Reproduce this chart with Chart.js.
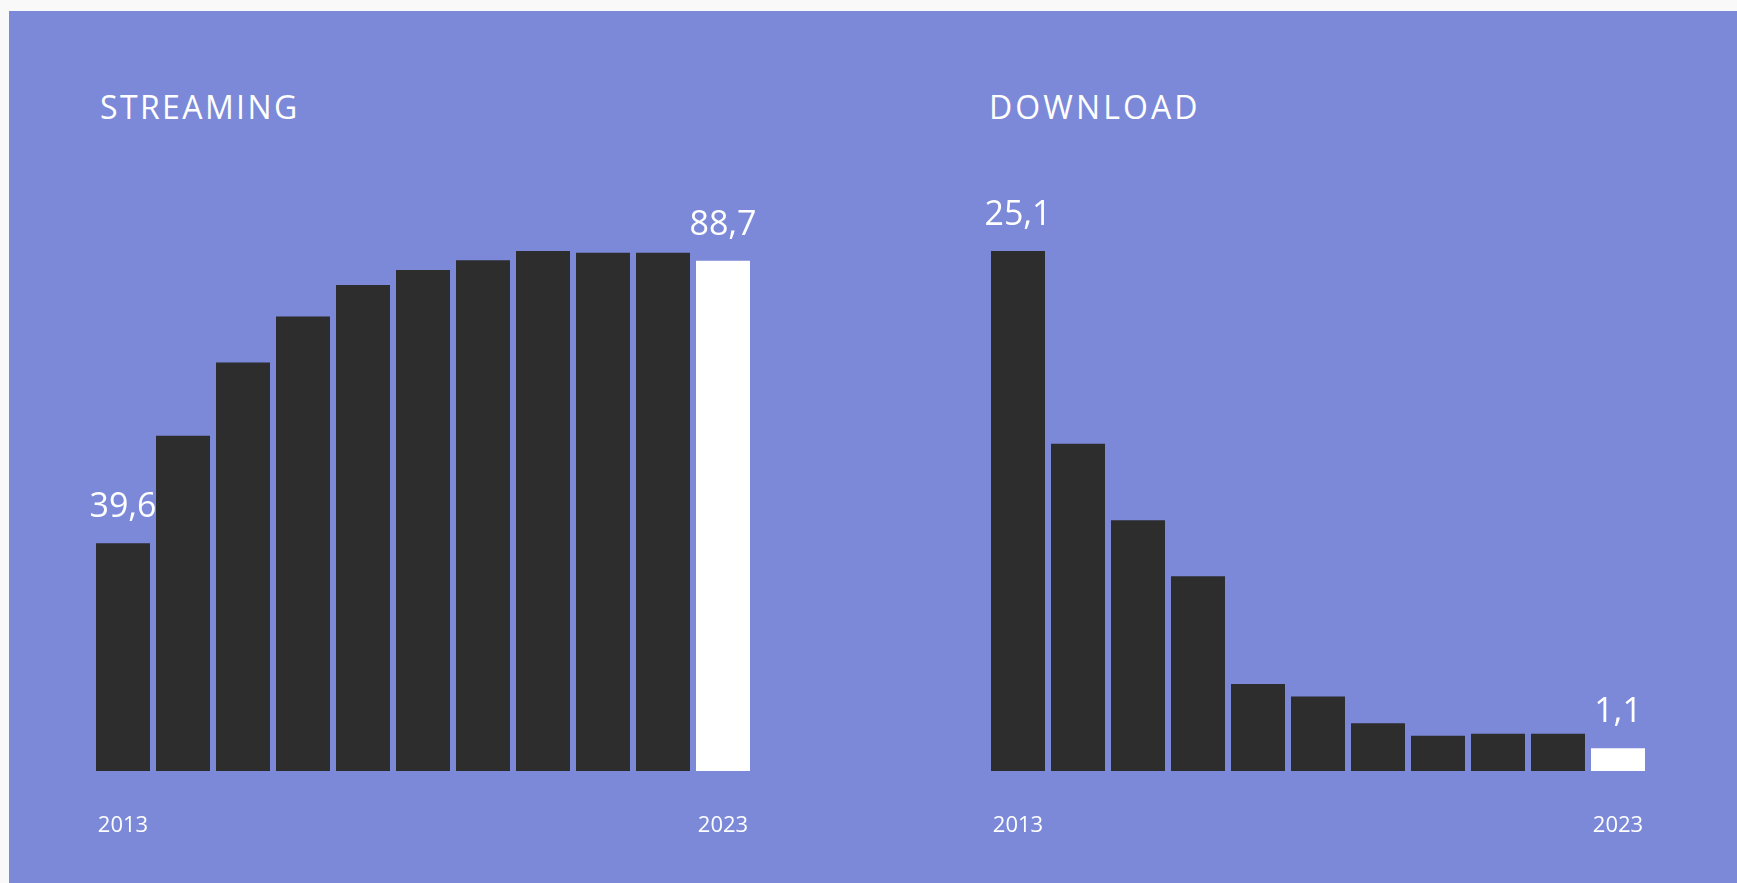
<!DOCTYPE html>
<html>
<head>
<meta charset="utf-8">
<title>Streaming / Download</title>
<script src="https://cdn.jsdelivr.net/npm/chart.js@4/dist/chart.umd.min.js"></script>
<style>
  body { margin: 0; background: #f9f9f9; font-family: "Open Sans", sans-serif; }
  #panel { position: absolute; left: 9px; top: 11px; width: 1728px; height: 872px; background: #7b89d8; }
  .title { position: absolute; top: 91px; margin: 0; color: #fff; font-size: 32px; line-height: 32px;
           font-weight: 400; letter-spacing: 2.4px; }
  canvas { position: absolute; top: 150px; }
</style>
</head>
<body>
<div id="panel"></div>
<h2 class="title" style="left:100px">STREAMING</h2>
<h2 class="title" style="left:989px; letter-spacing:3.1px">DOWNLOAD</h2>
<canvas id="streamChart" width="730" height="733" style="left:60px"></canvas>
<canvas id="downloadChart" width="730" height="733" style="left:955px"></canvas>
<script>
let years = ["2013", "2014", "2015", "2016", "2017", "2018", "2019", "2020", "2021", "2022", "2023"];
let streaming = [39.6, 58.3, 71.0, 79.0, 84.5, 87.1, 88.8, 90.4, 90.1, 90.1, 88.7];
let download = [25.1, 15.8, 12.1, 9.4, 4.2, 3.6, 2.3, 1.7, 1.8, 1.8, 1.1];

Chart.defaults.font.family = "'Open Sans', sans-serif";

// value on first and last bar only
const valueLabels = {
    id: 'valueLabels',
    afterDatasetsDraw(chart) {
        let ctx = chart.ctx;
        let meta = chart.getDatasetMeta(0);
        let vals = chart.data.datasets[0].data;
        ctx.save();
        ctx.fillStyle = '#ffffff';
        ctx.font = "34px 'Open Sans'";
        ctx.textAlign = 'center';
        ctx.textBaseline = 'alphabetic';
        for (let i of [0, vals.length - 1]) {
            let bar = meta.data[i];
            ctx.fillText(vals[i].toFixed(1).replace('.', ','), bar.x, bar.y - 26);
        }
        ctx.restore();
    }
};

function makeChart(id, values) {
    return new Chart(document.getElementById(id), {
        type: 'bar',
        data: {
            labels: years,
            datasets: [{
                data: values,
                backgroundColor: values.map((v, i) => i === values.length - 1 ? '#ffffff' : '#2d2d2d'),
                barPercentage: 0.9,
                categoryPercentage: 1.0
            }]
        },
        options: {
            responsive: false,
            animation: false,
            layout: { padding: { left: 33, right: 37, top: 101, bottom: 0 } },
            plugins: { legend: { display: false }, tooltip: { enabled: false } },
            scales: {
                x: {
                    // hidden grid, tickLength only used to push labels down
                    grid: { display: false, drawTicks: true, tickLength: 42 },
                    border: { display: false },
                    ticks: {
                        color: '#ffffff',
                        font: { size: 22 },
                        padding: 0,
                        autoSkip: false,
                        maxRotation: 0,
                        callback: (v, i) => (i === 0 || i === years.length - 1) ? years[i] : ''
                    },
                    afterFit: s => { s.height = 112; }
                },
                y: { display: false, min: 0, max: Math.max(...values) }
            }
        },
        plugins: [valueLabels]
    });
}

makeChart('streamChart', streaming);
makeChart('downloadChart', download);
</script>
</body>
</html>
